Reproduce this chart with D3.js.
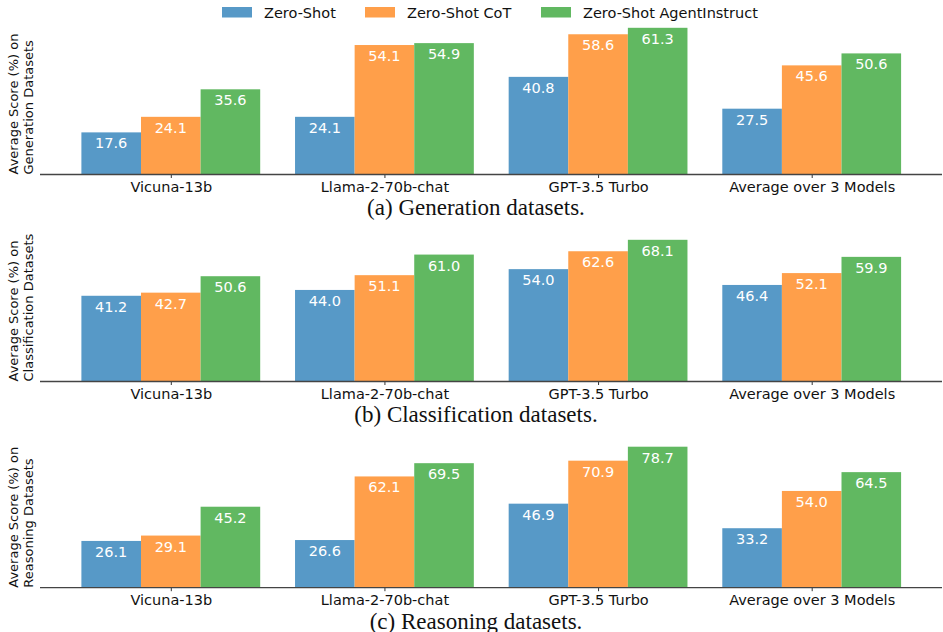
<!DOCTYPE html>
<html>
<head>
<meta charset="utf-8">
<script src="https://cdn.jsdelivr.net/npm/d3@7"></script>
<style>
  html, body { margin: 0; padding: 0; background: #fff; }
  svg { display: block; }
</style>
</head>
<body>
<svg id="chart" width="943" height="632"></svg>
<script>
const categories = ["Vicuna-13b", "Llama-2-70b-chat", "GPT-3.5 Turbo", "Average over 3 Models"];
const seriesNames = ["Zero-Shot", "Zero-Shot CoT", "Zero-Shot AgentInstruct"];
const seriesColors = ["#5799c7", "#ff9f4a", "#61b861"];

const generationZeroShot = [17.6, 24.1, 40.8, 27.5];
const generationCoT = [24.1, 54.1, 58.6, 45.6];
const generationAgent = [35.6, 54.9, 61.3, 50.6];

const classificationZeroShot = [41.2, 44.0, 54.0, 46.4];
const classificationCoT = [42.7, 51.1, 62.6, 52.1];
const classificationAgent = [50.6, 61.0, 68.1, 59.9];

const reasoningZeroShot = [26.1, 26.6, 46.9, 33.2];
const reasoningCoT = [29.1, 62.1, 70.9, 54.0];
const reasoningAgent = [45.2, 69.5, 78.7, 64.5];

const panelTitles = ["(a) Generation datasets.", "(b) Classification datasets.", "(c) Reasoning datasets."];
const yLabels = [
  ["Average Score (%) on", "Generation Datasets"],
  ["Average Score (%) on", "Classification Datasets"],
  ["Average Score (%) on", "Reasoning Datasets"]
];

const panelsData = [
  [generationZeroShot, generationCoT, generationAgent],
  [classificationZeroShot, classificationCoT, classificationAgent],
  [reasoningZeroShot, reasoningCoT, reasoningAgent]
];

// layout
const panelLayout = [
  { base: 174.5, height: 146.7, caption: 215 },
  { base: 381.5, height: 141.7, caption: 422 },
  { base: 587.7, height: 141.0, caption: 629 }
];

const svg = d3.select("#chart");
const FONT = "DejaVu Sans, sans-serif";

const x = d3.scalePoint().domain(categories).range([170.8, 811.7]);
const xs = d3.scaleBand().domain(seriesNames).range([-89.4, 89.4]).padding(0);

panelsData.forEach((series, p) => {
  const L = panelLayout[p];
  const maxV = d3.max(series.flat());
  const y = d3.scaleLinear().domain([0, maxV]).range([L.base, L.base - L.height]);
  const g = svg.append("g");

  series.forEach((vals, s) => {
    const name = seriesNames[s];
    g.selectAll(null).data(vals).enter().append("rect")
      .attr("x", (d, i) => x(categories[i]) + xs(name))
      .attr("y", d => y(d))
      .attr("width", xs.bandwidth())
      .attr("height", d => y(0) - y(d))
      .attr("fill", seriesColors[s]);
    g.selectAll(null).data(vals).enter().append("text")
      .attr("x", (d, i) => x(categories[i]) + xs(name) + xs.bandwidth() / 2)
      .attr("y", d => y(d) + 16)
      .attr("text-anchor", "middle")
      .attr("font-family", FONT)
      .attr("font-size", 14.5)
      .attr("fill", "#ffffff")
      .text(d => d.toFixed(1));
  });

  // axis
  const axis = d3.axisBottom(x).tickSize(3.5).tickPadding(4);
  const ag = svg.append("g").attr("transform", `translate(0,${L.base})`).call(axis);
  ag.select(".domain").remove();
  ag.selectAll(".tick line").attr("stroke", "#333").attr("stroke-width", 1);
  ag.selectAll(".tick text").attr("font-family", FONT).attr("font-size", 14.5)
    .attr("fill", "#111").attr("dy", "0.71em");
  ag.append("line").attr("x1", 40).attr("x2", 942).attr("y1", 0).attr("y2", 0)
    .attr("stroke", "#444").attr("stroke-width", 1.3);

  // y label
  const yl = svg.append("text")
    .attr("transform", `translate(0,${L.base}) rotate(-90)`)
    .attr("font-family", FONT).attr("font-size", 13).attr("fill", "#111")
    .attr("text-anchor", "start");
  yLabels[p].forEach((line, k) => {
    yl.append("tspan").attr("x", 0).attr("y", 17.5 + k * 15).text(line);
  });

  // caption
  svg.append("text")
    .attr("x", 476).attr("y", L.caption)
    .attr("text-anchor", "middle")
    .attr("font-family", "Liberation Serif, Times New Roman, serif")
    .attr("font-size", 23).attr("fill", "#111")
    .text(panelTitles[p]);
});

// legend
const legendX = [222, 365, 541];
const lg = svg.append("g");
seriesNames.forEach((n, i) => {
  lg.append("rect").attr("x", legendX[i]).attr("y", 7).attr("width", 30).attr("height", 10.5)
    .attr("fill", seriesColors[i]);
  lg.append("text").attr("x", legendX[i] + 42).attr("y", 18)
    .attr("font-family", FONT).attr("font-size", 14.5).attr("fill", "#111").text(n);
});
</script>
</body>
</html>
